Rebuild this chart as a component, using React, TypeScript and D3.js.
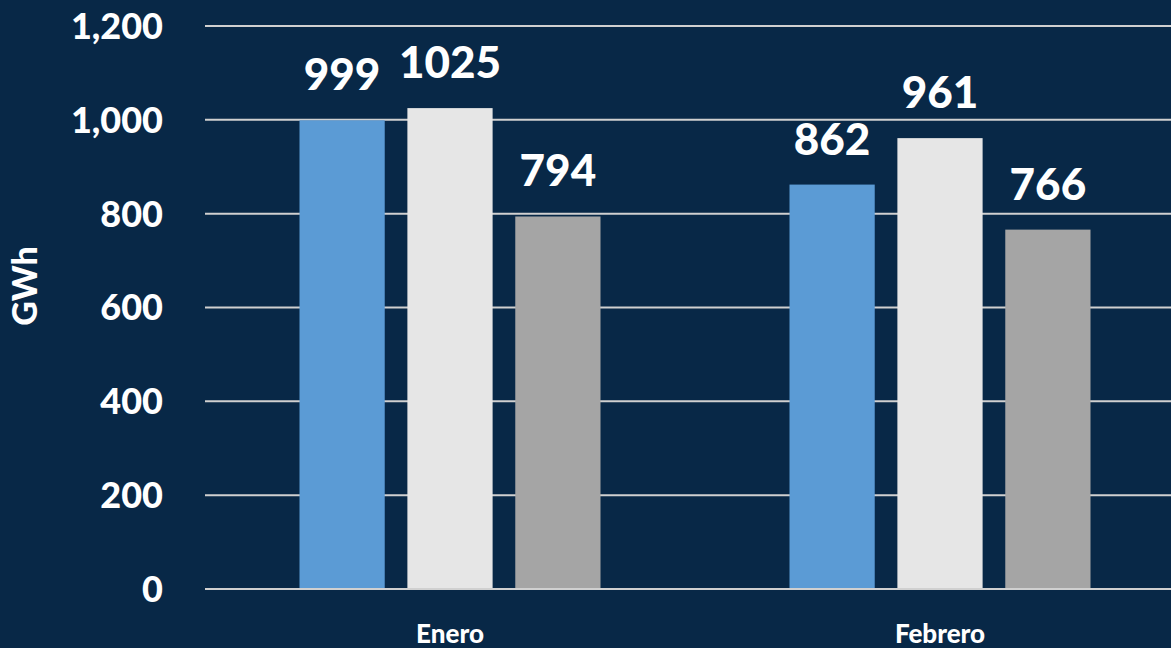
import React from "react";
import * as d3 from "d3";

const categories = ["Enero", "Febrero"];
const seriesNames = ["Serie 1", "Serie 2", "Serie 3"];
const serie1 = [999, 862];
const serie2 = [1025, 961];
const serie3 = [794, 766];
const yTicks = [0, 200, 400, 600, 800, 1000, 1200];
const colors = ["#5b9bd5", "#e6e6e6", "#a5a5a5"];

const W = 1171;
const H = 648;
const FONT = "Lato, 'Open Sans', sans-serif";

export default function App() {
  const x0 = d3.scaleBand<string>().domain(categories).range([205, 1185]).paddingInner(0).paddingOuter(0);
  const bw = x0.bandwidth();
  const inner = 301;
  const x1 = d3
    .scaleBand<string>()
    .domain(seriesNames)
    .range([(bw - inner) / 2, (bw + inner) / 2])
    .paddingInner(0.21)
    .paddingOuter(0);
  const y = d3.scaleLinear().domain([0, 1200]).range([589, 26]);
  const series = [serie1, serie2, serie3];
  const fmt = d3.format(",");

  return (
    <svg width={W} height={H} style={{ position: "absolute", left: 0, top: 0, display: "block" }}>
      <rect x={0} y={0} width={W} height={H} fill="#082847" />
      {yTicks.map((t) => (
        <g key={t}>
          <line x1={205} x2={W} y1={y(t)} y2={y(t)} stroke="#d0d0d0" strokeWidth={2} />
          <text
            x={163}
            y={y(t)}
            dy="0.36em"
            textAnchor="end"
            fill="#ffffff"
            fontFamily={FONT}
            fontWeight={900}
            fontSize={36}
          >
            {fmt(t)}
          </text>
        </g>
      ))}
      {categories.map((c, ci) => (
        <g key={c} transform={`translate(${x0(c)},0)`}>
          {seriesNames.map((s, si) => {
            const v = series[si][ci];
            const bx = x1(s)!;
            return (
              <g key={s}>
                <rect x={bx} y={y(v)} width={x1.bandwidth()} height={y(0) - y(v)} fill={colors[si]} />
                <text
                  x={bx + x1.bandwidth() / 2}
                  y={y(v) - 30}
                  textAnchor="middle"
                  fill="#ffffff"
                  fontFamily={FONT}
                  fontWeight={900}
                  fontSize={44}
                >
                  {v}
                </text>
              </g>
            );
          })}
          <text
            x={bw / 2}
            y={643}
            textAnchor="middle"
            fill="#ffffff"
            fontFamily={FONT}
            fontWeight={900}
            fontSize={26}
          >
            {c}
          </text>
        </g>
      ))}
      <line x1={205} x2={W} y1={y(0)} y2={y(0)} stroke="#d0d0d0" strokeWidth={2} />
      <text
        transform={`translate(37,286) rotate(-90)`}
        textAnchor="middle"
        fill="#ffffff"
        fontFamily={FONT}
        fontWeight={900}
        fontSize={34}
      >
        GWh
      </text>
    </svg>
  );
}
